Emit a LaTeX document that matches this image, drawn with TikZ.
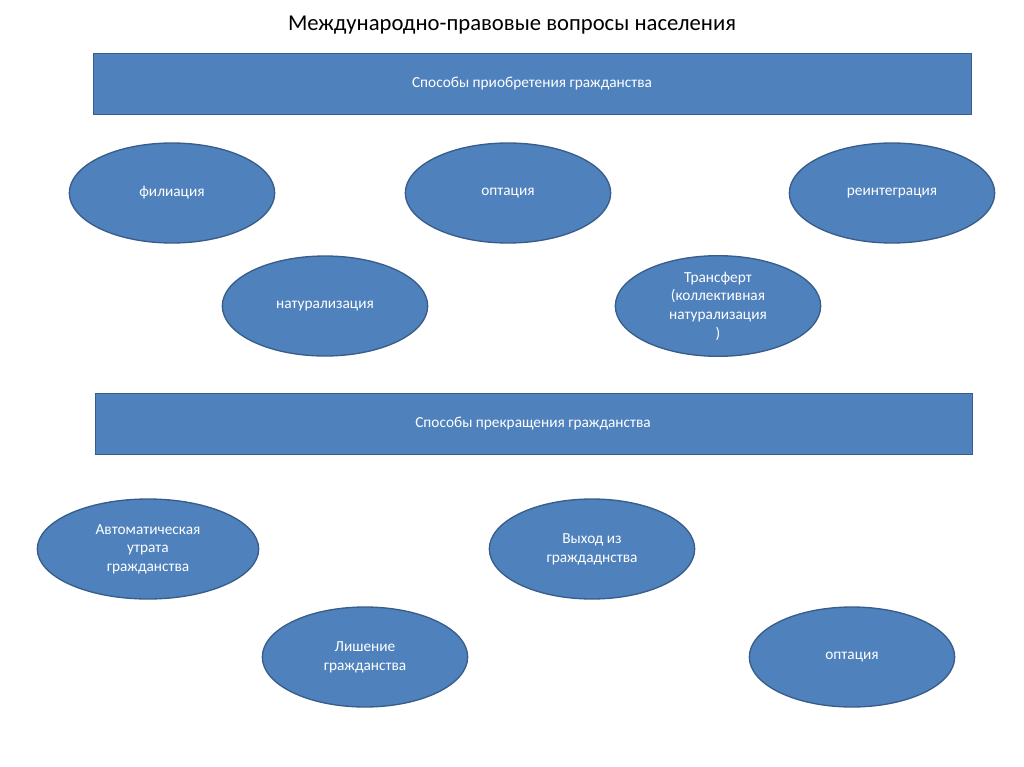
\documentclass[tikz,border=0pt]{standalone}
\usepackage{fontspec}
\setmainfont{Carlito}
\usetikzlibrary{shapes.geometric}
\definecolor{boxblue}{HTML}{4F81BD}
\definecolor{boxedge}{HTML}{385D8A}
\tikzset{
  band/.style={draw=boxedge, fill=boxblue, text=white, font=\fontsize{11.5}{14}\selectfont},
  oval/.style={ellipse, draw=boxedge, line width=1pt, fill=boxblue, text=white, align=center,
    minimum width=154pt, minimum height=75pt, inner sep=1pt, font=\fontsize{11.5}{14}\selectfont}
}
\begin{document}
\begin{tikzpicture}[x=0.75pt,y=-0.75pt]
  \useasboundingbox[fill=white] (0,0) rectangle (1024,767);
  \node (title) at (512,25) {\fontsize{17}{20}\selectfont Международно-правовые вопросы населения};
  % first band
  \draw[band] (93,53) rectangle (971,114);
  \node[text=white, font=\fontsize{11.5}{14}\selectfont] (acq) at (532,84) {Способы приобретения гражданства};
  \node[oval] (filiacia) at (172,193) {филиация};
  \node[oval] (optacia) at (508,193) {оптация};
  \node[oval] (reint) at (892,193) {реинтеграция};
  \node[oval] (natur) at (325,306) {натурализация};
  \node[oval] (transfer) at (718,306) {Трансферт\\(коллективная\\натурализация\\)};
  % second band
  \draw[band] (95,393) rectangle (972,454);
  \node[text=white, font=\fontsize{11.5}{14}\selectfont] (term) at (533,424) {Способы прекращения гражданства};
  \node[oval, minimum width=166pt] (auto) at (148,549) {Автоматическая\\утрата\\гражданства};
  \node[oval] (vyhod) at (592,549) {Выход из\\граждаднства};
  \node[oval] (lishenie) at (365,657) {Лишение\\гражданства};
  \node[oval] (optacia2) at (852,657) {оптация};
\end{tikzpicture}
\end{document}
